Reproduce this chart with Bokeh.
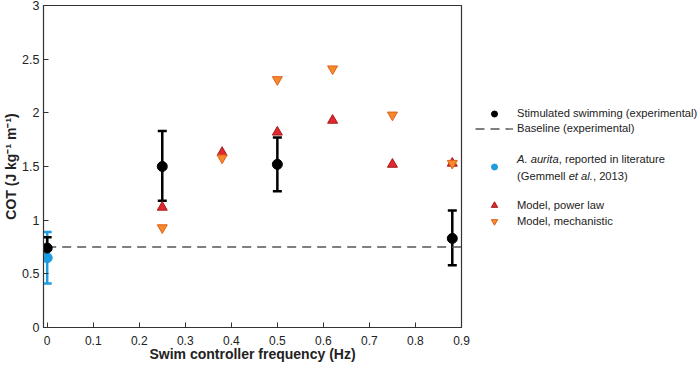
from bokeh.plotting import figure
from bokeh.layouts import row
from bokeh.models import (Whisker, ColumnDataSource, Legend, LegendItem,
                          FixedTicker, Range1d, TeeHead)
from bokeh.embed import file_html
from bokeh.resources import INLINE

# ---- data ----
stim_freq = [0.0, 0.25, 0.5, 0.88]
stim_cot = [0.74, 1.50, 1.52, 0.83]
stim_lower = [0.64, 1.18, 1.27, 0.58]
stim_upper = [0.84, 1.83, 1.77, 1.09]

baseline_cot = 0.75

lit_freq = [0.0]
lit_cot = [0.65]
lit_lower = [0.41]
lit_upper = [0.89]

model_freq = [0.25, 0.38, 0.5, 0.62, 0.75, 0.88]
power_law = [1.12, 1.63, 1.82, 1.93, 1.52, 1.53]
mechanistic = [0.93, 1.58, 2.31, 2.41, 1.98, 1.53]

x_ticks = [0, 0.1, 0.2, 0.3, 0.4, 0.5, 0.6, 0.7, 0.8, 0.9]
y_ticks = [0, 0.5, 1, 1.5, 2, 2.5, 3]

stim_label = "Stimulated swimming (experimental)"
base_label = "Baseline (experimental)"
lit_label_parts = [("A. aurita", "italic"), (", reported in literature", "normal")]
ref_label_parts = [("(Gemmell ", "normal"), ("et al.", "italic"), (", 2013)", "normal")]
power_label = "Model, power law"
mech_label = "Model, mechanistic"

FONT = "Liberation Sans"
BLACK = "black"
BLUE = "#1f9be0"
RED_F, RED_L = "#e0282e", "#a51c1c"
ORG_F, ORG_L = "#f5892c", "#e0621a"
DASH_C = "#555555"
TXT = "#222222"

P_W, L_W, H = 473, 227, 370
BORDER_TOP, BORDER_BOTTOM = 5, 43
FRAME_BOTTOM = H - BORDER_BOTTOM

p = figure(width=P_W, height=H, output_backend="svg", toolbar_location=None,
           x_range=Range1d(-0.008, 0.9), y_range=Range1d(0, 3),
           min_border_left=42, min_border_right=12, min_border_top=BORDER_TOP,
           min_border_bottom=BORDER_BOTTOM)
p.grid.visible = False
p.outline_line_color = "#333333"
p.outline_line_width = 1.2

for ax in (p.xaxis[0], p.yaxis[0]):
    ax.major_tick_in = 5
    ax.major_tick_out = 0
    ax.minor_tick_line_color = None
    ax.axis_line_color = "#333333"
    ax.major_tick_line_color = "#333333"
    ax.major_label_text_font = FONT
    ax.major_label_text_font_size = "12px"
    ax.major_label_text_color = TXT
    ax.axis_label_text_font = FONT
    ax.axis_label_text_font_size = "14px"
    ax.axis_label_text_font_style = "bold"
    ax.axis_label_text_color = TXT

p.yaxis.major_label_text_font_size = "12.5px"
p.xaxis.ticker = FixedTicker(ticks=x_ticks)
p.yaxis.ticker = FixedTicker(ticks=y_ticks)
p.xaxis.axis_label = "Swim controller frequency (Hz)"
p.yaxis.axis_label = "COT (J kg\u207b\u00b9 m\u207b\u00b9)"
p.xaxis.major_label_standoff = 8
p.yaxis.major_label_standoff = 4
p.xaxis.axis_label_standoff = -2
p.yaxis.axis_label_standoff = 0

# baseline
base_src = ColumnDataSource(dict(x=[x_ticks[0], x_ticks[-1]], y=[baseline_cot, baseline_cot]))
p.line("x", "y", source=base_src, line_color=DASH_C, line_width=1.3, line_dash="9 6")

# literature (blue)
lit_src = ColumnDataSource(dict(x=lit_freq, y=lit_cot, lo=lit_lower, hi=lit_upper))
p.add_layout(Whisker(source=lit_src, base="x", lower="lo", upper="hi",
                     line_color=BLUE, line_width=2.5,
                     upper_head=TeeHead(size=9, line_color=BLUE, line_width=2.5),
                     lower_head=TeeHead(size=9, line_color=BLUE, line_width=2.5)))
p.scatter("x", "y", source=lit_src, size=10, fill_color=BLUE, line_color=BLUE)

# model points
p.scatter(model_freq, power_law, marker="triangle", size=10,
          fill_color=RED_F, line_color=RED_L, line_width=1)
p.scatter(model_freq, mechanistic, marker="inverted_triangle", size=10,
          fill_color=ORG_F, line_color=ORG_L, line_width=1)

# stimulated (black)
stim_src = ColumnDataSource(dict(x=stim_freq, y=stim_cot, lo=stim_lower, hi=stim_upper))
p.add_layout(Whisker(source=stim_src, base="x", lower="lo", upper="hi",
                     line_color=BLACK, line_width=2.5,
                     upper_head=TeeHead(size=9, line_color=BLACK, line_width=2.5),
                     lower_head=TeeHead(size=9, line_color=BLACK, line_width=2.5)))
p.scatter("x", "y", source=stim_src, size=10, fill_color=BLACK, line_color=BLACK)

# ---- legend panel: second figure; its ranges keep the proxy glyphs out of view ----
lf = figure(width=L_W, height=H, output_backend="svg", toolbar_location=None,
            x_range=Range1d(10, 11), y_range=Range1d(10, 11),
            x_axis_location=None, y_axis_location=None,
            min_border=0, outline_line_color=None)
lf.grid.visible = False
r_stim = lf.scatter(stim_freq[:1], stim_cot[:1], size=10, fill_color=BLACK, line_color=BLACK)
r_base = lf.line([x_ticks[0], x_ticks[-1]], [baseline_cot, baseline_cot],
                 line_color=DASH_C, line_width=1.3, line_dash="9 6")
r_lit = lf.scatter(lit_freq, lit_cot, size=10, fill_color=BLUE, line_color=BLUE)
r_pw = lf.scatter(model_freq[:1], power_law[:1], marker="triangle", size=10,
                  fill_color=RED_F, line_color=RED_L, line_width=1)
r_mech = lf.scatter(model_freq[:1], mechanistic[:1], marker="inverted_triangle", size=10,
                    fill_color=ORG_F, line_color=ORG_L, line_width=1)
r_none = lf.scatter(stim_freq[:1], stim_cot[:1], size=1, fill_alpha=0, line_alpha=0)

FS = 11.2          # legend font size, px
LX = 2             # legend left offset in the legend panel
GW = 38            # glyph width
STANDOFF = 4


def add_legend(entries, top, row_h, style="normal", dx=0.0):
    """entries: list of (label, renderer); top: y of legend top in page px."""
    n = len(entries)
    bottom = top + n * row_h
    leg = Legend(items=[LegendItem(label=t, renderers=[r]) for t, r in entries],
                 location=(LX + dx, FRAME_BOTTOM - bottom), border_line_color=None,
                 background_fill_alpha=0, label_text_font=FONT,
                 label_text_font_size=f"{FS}px", label_text_color=TXT,
                 label_text_font_style=style,
                 spacing=0, label_height=row_h, glyph_height=row_h,
                 glyph_width=GW, label_standoff=STANDOFF, padding=0, margin=0)
    lf.add_layout(leg, "center")


# Arial / Liberation Sans advance widths (per 1000 em) for offsetting mixed-style runs
ADV = {"A": 667, ".": 278, " ": 278, "a": 556, "u": 556, "r": 333, "i": 222, "t": 278,
       "(": 333, "G": 778, "e": 556, "m": 833, "l": 222, ",": 278}


def text_w(s):
    return sum(ADV.get(c, 556) for c in s) * FS / 1000.0


add_legend([(stim_label, r_stim), (base_label, r_base)], top=105.5, row_h=15)
add_legend([(" ", r_lit)], top=158.5, row_h=15)

off = 0.0
for txt, sty in lit_label_parts:
    add_legend([(txt, r_none)], top=151.5, row_h=15, style=sty, dx=off)
    off += text_w(txt)
off = 0.0
for txt, sty in ref_label_parts:
    add_legend([(txt, r_none)], top=168.5, row_h=15, style=sty, dx=off)
    off += text_w(txt)

add_legend([(power_label, r_pw), (mech_label, r_mech)], top=197, row_h=16)

layout = row(p, lf)
open("out.html", "w").write(file_html(layout, INLINE))
